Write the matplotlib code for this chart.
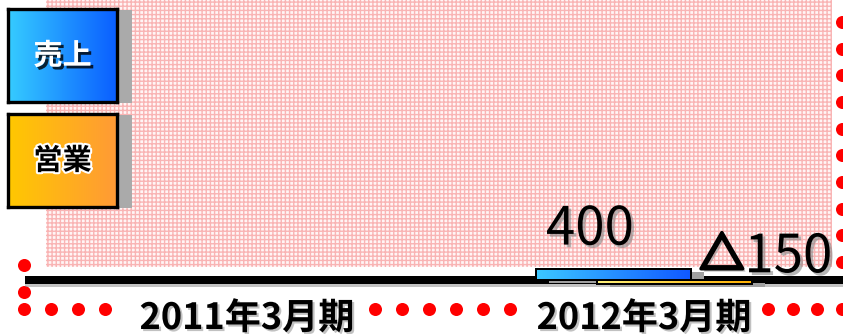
import numpy as np
import matplotlib
matplotlib.use('Agg')
import matplotlib.pyplot as plt
import matplotlib.patheffects as pe
from matplotlib.patches import Rectangle
from matplotlib.transforms import offset_copy
from matplotlib.colors import LinearSegmentedColormap

# data
periods = ['2011年3月期', '2012年3月期']
series_names = ['売上', '営業']
sales = [0, 400]
op_profit = [0, -150]
sales_labels = ['', '400']
op_labels = ['', '△150']

W, H = 843, 334
cjk = ['Noto Sans CJK JP', 'DejaVu Sans']
narrow = ['Liberation Sans Narrow', 'Noto Sans CJK JP', 'DejaVu Sans']
plt.rcParams['hatch.linewidth'] = 1.0

fig = plt.figure(figsize=(W / 100, H / 100), dpi=100)

# background layer in pixel coords (pattern, red dots, shadows)
deco = fig.add_axes([0, 0, 1, 1], zorder=0)
deco.set_xlim(0, W)
deco.set_ylim(H, 0)
deco.axis('off')
deco.add_patch(Rectangle((46, 0), 786, 267, facecolor='#fff5f5', edgecolor='#f9b4b4',
                         hatch='++++', lw=0))
dot = dict(s=88, color='#ff0000', lw=0, clip_on=False)
bottom_x = np.r_[np.arange(24, 110, 27), np.arange(375, 520, 27), np.linspace(768, 842, 4)]
deco.scatter(bottom_x, np.full(len(bottom_x), 309), **dot)
deco.scatter(np.full(10, 842), np.linspace(22, 262, 10), **dot)
deco.scatter([24, 24], [265, 292], **dot)

# chart
ax = fig.add_axes([48.5 / W, 0, 794 / W, 1], zorder=1)
ax.patch.set_alpha(0)
ax.axis('off')
x = np.arange(len(periods))
bw = 0.39
off = 0.076
upp = 35  # value units per pixel

ax.axhline(0, xmin=(25 - 48.5) / 794, xmax=1, color='black', lw=8 * 0.72,
           solid_capstyle='butt', clip_on=False, zorder=2,
           path_effects=[pe.SimpleLineShadow(offset=(0, -2), shadow_color='#888888', alpha=0.5),
                         pe.Normal()])

shadow_fx = [pe.withSimplePatchShadow(offset=(2, -2), shadow_rgbFace='#888888', alpha=0.6)]
series = [
    (sales, sales_labels, -off, ['#3cc8ff', '#1058ff'], (-24, 24), 'center'),
    (op_profit, op_labels, off, ['#fff27a', '#ffb000'], (158, 12), 'right'),
]
shadow_tr = offset_copy(ax.transData, fig=fig, x=13, y=-3, units='dots')
for vals, labels, dx, cols, lab_off, ha in series:
    ax.bar(x + dx, vals, bw, color='#a0a0a0', lw=0, zorder=3, transform=shadow_tr)
    bars = ax.bar(x + dx, vals, bw, facecolor='none', edgecolor='black', lw=1.44, zorder=5)
    cmap = LinearSegmentedColormap.from_list('g', cols)
    for r, v, t in zip(bars, vals, labels):
        if v == 0:
            continue
        y0, y1 = sorted([0, v])
        im = ax.imshow(np.linspace(0, 1, 256)[None, :], cmap=cmap, aspect='auto',
                       extent=[r.get_x(), r.get_x() + r.get_width(), y0, y1],
                       interpolation='bilinear', zorder=4)
        im.set_clip_path(r)
        xc = r.get_x() + r.get_width() / 2
        num = t.lstrip('△')
        ax.annotate(num, (xc, v), xytext=lab_off, textcoords='offset pixels', ha=ha,
                    va='baseline', fontsize=38, family=narrow, color='black', zorder=6,
                    path_effects=shadow_fx)
        if t.startswith('△'):
            # triangle sign, thickened with a stroke
            ax.annotate('△', (xc, v), xytext=(lab_off[0] - 88, lab_off[1] + 3),
                        textcoords='offset pixels', ha='right', va='baseline', fontsize=32,
                        family=cjk, weight='bold', color='black', zorder=6,
                        path_effects=[pe.withSimplePatchShadow(offset=(2, -2),
                                                               shadow_rgbFace='#888888',
                                                               alpha=0.6),
                                      pe.Stroke(linewidth=2.5, foreground='black'),
                                      pe.Normal()])

for i, p in enumerate(periods):
    ax.text(x[i], 1 - 329 / H, p, transform=ax.get_xaxis_transform(), ha='center',
            va='baseline', fontsize=26, family=cjk, weight='bold', zorder=1,
            path_effects=[pe.withSimplePatchShadow(offset=(1.5, -1.5),
                                                   shadow_rgbFace='#999999', alpha=0.6)])

ax.set_xlim(-0.5, 1.5)
ax.set_ylim(-(H - 280) * upp, 280 * upp)

# legend boxes
legend_cols = [['#36ccff', '#0a5eff'], ['#ffc800', '#ff9a36']]
for i, name in enumerate(series_names):
    top = 9 + 105 * i
    deco.add_patch(Rectangle((117, top + 1), 15, 93, color='#aaaaaa', lw=0))
    lax = fig.add_axes([8 / W, 1 - (top + 93) / H, 109 / W, 93 / H], zorder=3)
    lax.imshow(np.linspace(0, 1, 256)[None, :], aspect='auto', extent=[0, 1, 0, 1],
               cmap=LinearSegmentedColormap.from_list('l', legend_cols[i]))
    lax.set_xticks([])
    lax.set_yticks([])
    for s in lax.spines.values():
        s.set_linewidth(2.4)
        s.set_color('black')
    if i == 0:
        lax.text(0.5, 0.5, name, ha='center', va='center', fontsize=21, weight='bold',
                 family=cjk, color='white',
                 path_effects=[pe.withSimplePatchShadow(offset=(2, -2), shadow_rgbFace='black',
                                                        alpha=0.8)])
    else:
        lax.text(0.5, 0.5, name, ha='center', va='center', fontsize=21, weight='bold',
                 family=cjk, color='black',
                 path_effects=[pe.withStroke(linewidth=3, foreground='white')])

fig.savefig('out.png', dpi=100)
